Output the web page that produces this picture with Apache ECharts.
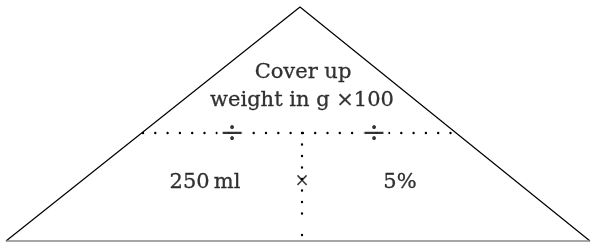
<!DOCTYPE html>
<html><head><meta charset="utf-8">
<script src="https://cdn.jsdelivr.net/npm/echarts@6/dist/echarts.min.js"></script>
<style>html,body{margin:0;padding:0;background:#fff}#c{width:591px;height:242px}</style>
</head><body><div id="c"></div>
<script>
// Diagram geometry (pixel-like coordinates, y grows downward)
var triangleSides = [[6, 241], [300, 7], [590, 241]];
var triangleBase = [[6, 241], [590, 241]];
var dividerH = [[143, 133], [452, 133]];
var dividerV1 = [[302, 133], [302, 214]];
var dividerV2 = [[302, 235], [302, 236]];
var labelTexts = ['Cover up', 'weight in g \u00d7100', '250\u2009ml', '5%'];
var labelPos = [[303, 73], [302, 101], [205, 183], [400, 183]];
var divTexts = ['\u00f7', '\u00f7'];
var divPos = [[232, 134], [374, 134]];
var mulTexts = ['\u00d7'];
var mulPos = [[302, 181]];

var font = 'DejaVu Serif';
var dottedH = {color: '#000', width: 2.4, type: [0, 12.3], cap: 'round'};
var dottedV = {color: '#000', width: 2.4, type: [0, 11.5], cap: 'round'};
var txt = {show: true, position: 'inside', formatter: '{b}', color: '#000',
  fontFamily: font, textBorderColor: '#000', textBorderWidth: 0.3};

var chart = echarts.init(document.getElementById('c'), null, {renderer: 'canvas'});
chart.setOption({
  animation: false,
  grid: {left: 0, right: 0, top: 0, bottom: 0},
  xAxis: {type: 'value', min: 0, max: 591, show: false},
  yAxis: {type: 'value', min: 0, max: 242, inverse: true, show: false},
  series: [
    {type: 'line', data: dividerH, symbol: 'none', lineStyle: dottedH, z: 1},
    {type: 'line', data: dividerV1, symbol: 'none', lineStyle: dottedV, z: 1},
    {type: 'line', data: dividerV2, symbol: 'none', lineStyle: dottedV, z: 1},
    {type: 'line', data: triangleSides, symbol: 'none', lineStyle: {color: '#000', width: 1.2}, z: 2},
    {type: 'line', data: triangleBase, symbol: 'none', lineStyle: {color: '#888', width: 1.5}, z: 2},
    {type: 'scatter', symbolSize: 0, z: 5,
      data: labelTexts.map(function (t, i) { return {name: t, value: labelPos[i]}; }),
      label: Object.assign({}, txt, {fontSize: 21})},
    {type: 'scatter', symbolSize: 0, z: 5,
      data: divTexts.map(function (t, i) { return {name: t, value: divPos[i]}; }),
      label: Object.assign({}, txt, {fontSize: 30, backgroundColor: '#fff', padding: [-6, 2], textBorderWidth: 0})},
    {type: 'scatter', symbolSize: 0, z: 5,
      data: mulTexts.map(function (t, i) { return {name: t, value: mulPos[i]}; }),
      label: Object.assign({}, txt, {fontSize: 18, textBorderWidth: 0})}
  ]
});
</script></body></html>
